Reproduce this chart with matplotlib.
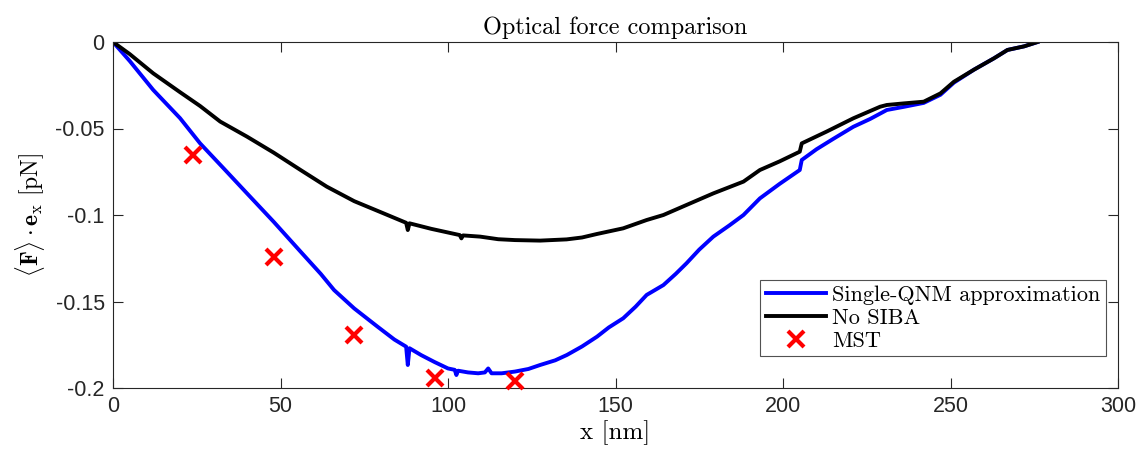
import matplotlib
matplotlib.use("Agg")
import matplotlib.pyplot as plt

plt.rcParams['mathtext.fontset'] = 'cm'
plt.rcParams['axes.unicode_minus'] = False

# ---- data ----
blue_x = [0, 5, 12, 20, 26, 33, 40, 48, 56, 62, 66, 72, 79, 84, 87.5, 88, 88.5, 92, 96, 100,
          102, 102.5, 103, 106, 109, 111, 112, 113, 116, 120, 124, 127.5, 132, 135.5, 140,
          144.5, 148, 152.3, 156, 159.3, 164.3, 168, 171.2, 175, 179.2, 184, 188.2, 193.1,
          199, 205, 205.6, 210, 215, 221, 226, 231, 236, 242, 247, 251, 257, 263, 267, 272, 276]
blue_y = [0, -0.011, -0.0277, -0.044, -0.0586, -0.073, -0.0875, -0.104, -0.1212, -0.134,
          -0.1434, -0.154, -0.1646, -0.172, -0.1761, -0.1867, -0.177, -0.181, -0.185, -0.1887,
          -0.1895, -0.1925, -0.1900, -0.191, -0.1915, -0.191, -0.1887, -0.1915, -0.1915, -0.1905,
          -0.189, -0.1867, -0.184, -0.1809, -0.176, -0.1703, -0.165, -0.1597, -0.153, -0.1462,
          -0.1405, -0.134, -0.1279, -0.120, -0.1125, -0.106, -0.1, -0.0904, -0.082, -0.074,
          -0.0682, -0.062, -0.056, -0.049, -0.0445, -0.0393, -0.0375, -0.0352, -0.0305, -0.0235,
          -0.016, -0.0094, -0.0046, -0.0025, 0]

black_x = [0, 5, 12, 20, 26, 32, 40, 48, 56, 63.8, 72, 80.7, 87.5, 88, 88.5, 95, 103.5, 104,
           104.5, 109.6, 115, 120, 127.5, 135.4, 140, 144.4, 152.3, 159.3, 164.3, 171.2, 179.2,
           188.2, 193.1, 199, 205, 205.6, 213, 221, 229, 231, 236, 242, 247, 251, 257, 263, 267,
           272, 276]
black_y = [0, -0.007, -0.0181, -0.029, -0.037, -0.046, -0.0547, -0.064, -0.074, -0.0836, -0.092,
           -0.099, -0.1045, -0.1087, -0.1048, -0.108, -0.1116, -0.1135, -0.1118, -0.1125, -0.114,
           -0.1145, -0.1148, -0.1141, -0.113, -0.111, -0.1077, -0.1029, -0.1, -0.0942, -0.0875,
           -0.0807, -0.074, -0.069, -0.0634, -0.0586, -0.0518, -0.0441, -0.0374, -0.0364, -0.0355,
           -0.0345, -0.0297, -0.023, -0.016, -0.0094, -0.0046, -0.0025, 0]

mst_x = [24, 48, 72, 96, 120]
mst_y = [-0.0653, -0.1243, -0.1694, -0.1942, -0.196]

xticks = [0, 50, 100, 150, 200, 250, 300]
xtick_labels = ['0', '50', '100', '150', '200', '250', '300']
yticks = [0, -0.05, -0.1, -0.15, -0.2]
ytick_labels = ['0', '-0.05', '-0.1', '-0.15', '-0.2']

# ---- figure ----
fig = plt.figure(figsize=(11.43, 4.62), dpi=100)
ax = fig.add_axes([113/1143, 1 - 388/462, (1118 - 113)/1143, (388 - 42)/462])

ax.plot(blue_x, blue_y, color=(0, 0, 1), lw=2.8, label='Single-QNM approximation')
ax.plot(black_x, black_y, color='black', lw=2.8, label='No SIBA')
ax.plot(mst_x, mst_y, linestyle='none', marker='x', color=(1, 0, 0), markersize=12,
        markeredgewidth=3, label='MST', clip_on=False, zorder=5)

ax.set_xlim(0, 300)
ax.set_ylim(-0.2, 0)
ax.set_xticks(xticks)
ax.set_xticklabels(xtick_labels)
ax.set_yticks(yticks)
ax.set_yticklabels(ytick_labels)

gray = (0.15, 0.15, 0.15)
for s in ax.spines.values():
    s.set_color(gray)
    s.set_linewidth(0.8)
ax.tick_params(direction='in', length=7, width=0.8, color=gray, labelcolor=gray,
               top=True, right=True, labelsize=15.5, pad=6)
for lab in ax.get_xticklabels() + ax.get_yticklabels():
    lab.set_family('Liberation Sans')

ax.set_title('Optical force comparison', family='cmr10', fontsize=17.5, pad=6)
ax.set_xlabel('x [nm]', family='cmr10', fontsize=18, labelpad=2)
ax.set_ylabel(r'$\langle\mathbf{F}\rangle\cdot\mathbf{e}_\mathrm{x}\ [\mathrm{pN}]$', fontsize=17,
              labelpad=6)

leg = ax.legend(loc='upper left', bbox_to_anchor=(0.644, 0.312), prop={'family': 'cmr10', 'size': 16},
                frameon=True, fancybox=False, edgecolor=gray, handlelength=2.7, handletextpad=0.3,
                borderpad=0.25, labelspacing=0.15, borderaxespad=0)
leg.get_frame().set_linewidth(0.8)

fig.savefig('out.png', dpi=100)
